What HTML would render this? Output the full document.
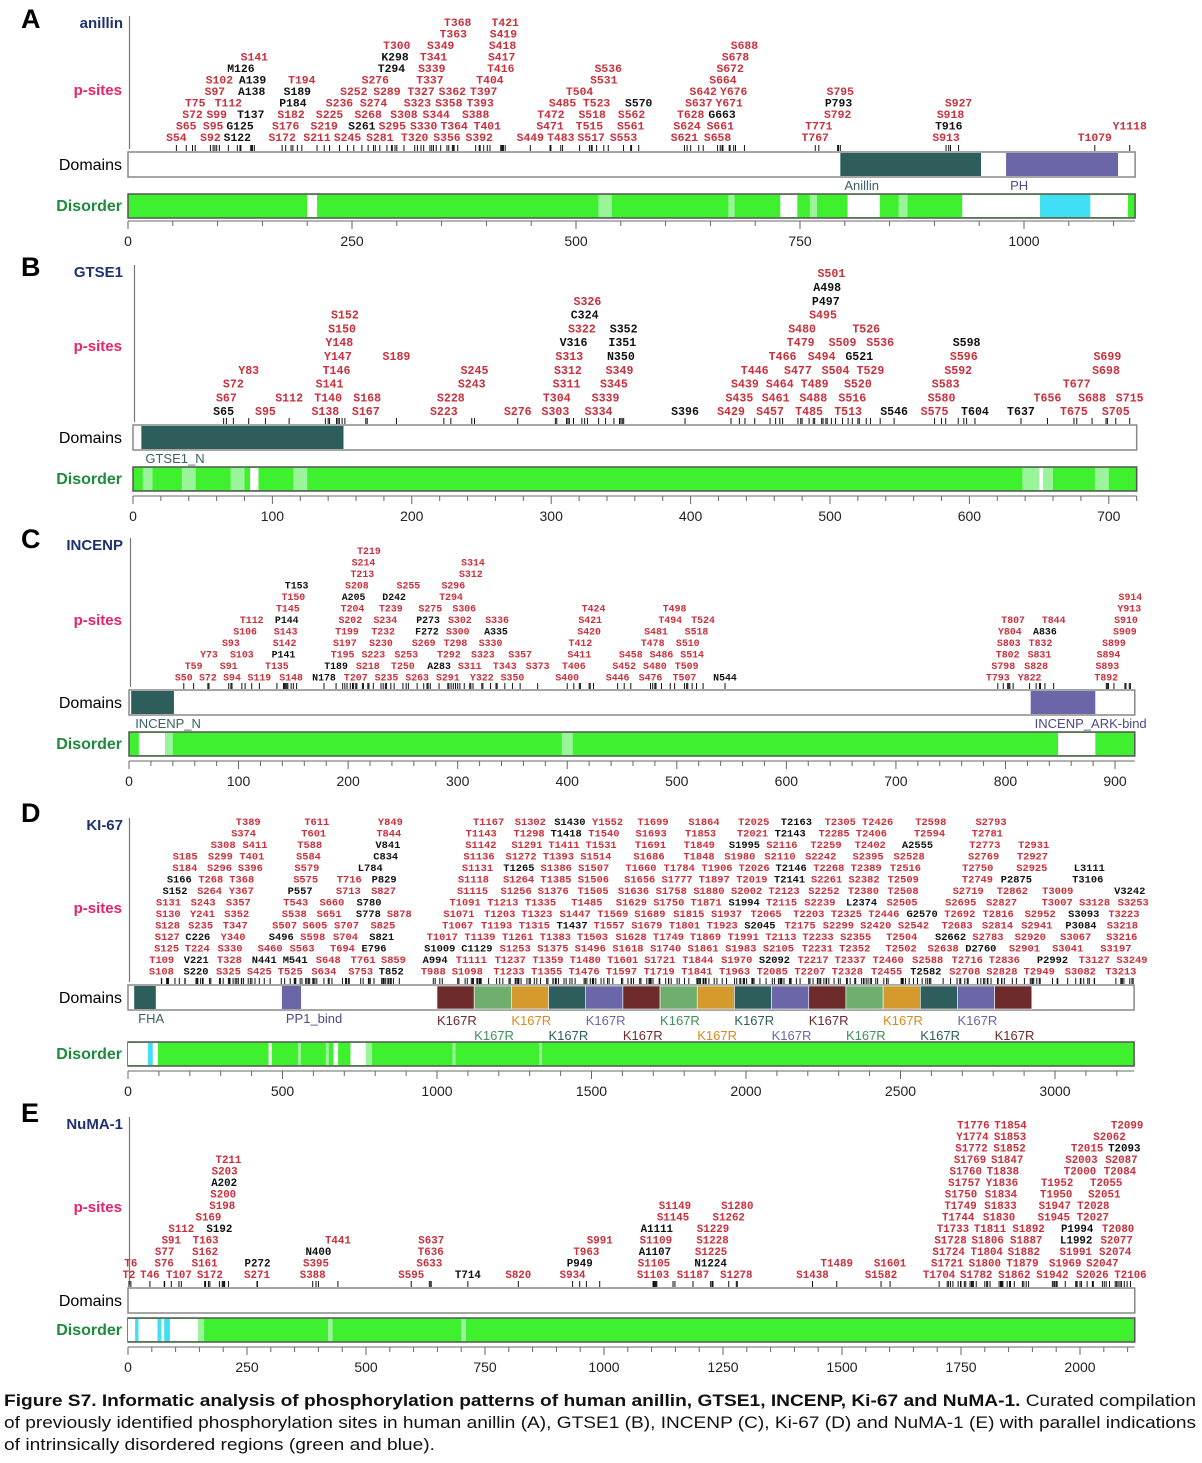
<!DOCTYPE html>
<html><head><meta charset="utf-8">
<style>
html,body{margin:0;padding:0;background:#fff;}
svg{display:block;}
.site{font-family:"Liberation Mono",monospace;font-weight:bold;}
.lab{font-family:"Liberation Sans",sans-serif;}
</style></head>
<body>
<svg id="fig" width="1202" height="1463" viewBox="0 0 1202 1463" xmlns="http://www.w3.org/2000/svg">
<g id="caption" class="lab" font-size="17" fill="#111">
<text x="4" y="1406" textLength="1192" lengthAdjust="spacingAndGlyphs"><tspan font-weight="bold">Figure S7. Informatic analysis  of phosphorylation patterns of human anillin, GTSE1,  INCENP, Ki-67 and NuMA-1.</tspan> Curated compilation</text>
<text x="4" y="1428" textLength="1192" lengthAdjust="spacingAndGlyphs">of previously identified phosphorylation  sites in human anillin (A), GTSE1  (B), INCENP (C), Ki-67 (D) and NuMA-1 (E) with parallel indications</text>
<text x="4" y="1450" textLength="431" lengthAdjust="spacingAndGlyphs">of intrinsically disordered  regions  (green and  blue).</text>
</g>
</svg>
<script>
// ---------- DATA ----------
const rowsA = [
"S54 S92 S122 S172 S211 S245 S281 T320 S356 S392 S449 T483 S517 S553 S621 S658 T767 S913 T1079",
"S65 S95 G125 S176 S219 S261 S295 S330 T364 T401 S471 T515 S561 S624 S661 T771 T916 Y1118",
"S72 S99 T137 S182 S225 S268 S308 S344 S388 T472 S518 S562 T628 G663 S792 S918",
"T75 T112 P184 S236 S274 S323 S358 T393 S485 T523 S570 S637 Y671 P793 S927",
"S97 A138 S189 S252 S289 T327 S362 T397 T504 S642 Y676 S795",
"S102 A139 T194 S276 T337 T404 S531 S664",
"M126 T294 S339 T416 S536 S672",
"S141 K298 T341 S417 S678",
"T300 S349 S418 S688",
"T363 S419",
"T368 T421"];
const blackA = "S122 G125 T137 A138 A139 M126 P184 S189 S261 T294 K298 S570 G663 P793 T916";
const domainsA = [["Anillin",795,952,"teal"],["PH",980,1105,"purple"]];
const disorderA = [["w",200,211],["l",525,540],["l",670,677],["w",728,747],["l",761,769],["w",803,839],["l",860,870],["w",931,1018],["c",1018,1074],["w",1074,1116]];

const rowsB = [
"S65 S95 S138 S167 S223 S276 S303 S334 S396 S429 S457 T485 T513 S546 S575 T604 T637 T675 S705",
"S67 S112 T140 S168 S228 T304 S339 S435 S461 S488 S516 S580 T656 S688 S715",
"S72 S141 S243 S311 S345 S439 S464 T489 S520 S583 T677",
"Y83 T146 S245 S312 S349 T446 S477 S504 T529 S592 S698",
"Y147 S189 S313 N350 T466 S494 G521 S596 S699",
"Y148 V316 I351 T479 S509 S536 S598",
"S150 S322 S352 S480 T526",
"S152 C324 S495",
"S326 P497",
"A498",
"S501"];
const blackB = "S65 S396 S546 T604 T637 V316 C324 I351 N350 S352 P497 A498 G521 S598";
const domainsB = [["GTSE1_N",6,151,"teal"]];
const disorderB = [["l",7,14],["l",35,45],["l",70,80],["w",84,90],["l",115,125],["l",638,645],["l",645,650],["w",650,653],["l",653,660],["l",690,700]];

const rowsC = [
"S50 S72 S94 S119 S148 N178 T207 S235 S263 S291 Y322 S350 S400 S446 S476 T507 N544 T793 Y822 T892",
"T59 S91 T135 T189 S218 T250 A283 S311 T343 S373 T406 S452 S480 T509 S798 S828 S893",
"Y73 S103 P141 T195 S223 S253 T292 S323 S357 S411 S458 S486 S514 T802 S831 S894",
"S93 S142 S197 S230 S269 T298 S330 T412 T478 S510 S803 T832 S899",
"S106 S143 T199 T232 F272 S300 A335 S420 S481 S518 Y804 A836 S909",
"T112 P144 S202 S234 P273 S302 S336 S421 T494 T524 T807 T844 S910",
"T145 T204 T239 S275 S306 T424 T498 Y913",
"T150 A205 D242 T294 S914",
"T153 S208 S255 S296",
"T213 S312",
"S214 S314",
"T219"];
const blackC = "N178 T189 A283 P141 P144 T153 A205 D242 P273 F272 A335 N544 A836";
const domainsC = [["INCENP_N",2,41,"teal"],["INCENP_ARK-bind",823,882,"purple"]];
const disorderC = [["w",9,33],["l",33,40],["l",395,405],["w",848,882]];

const rowsD = [
"S108 S220 S325 S425 T525 S634 S753 T852 T988 S1098 T1233 T1355 T1476 T1597 T1719 T1841 T1963 T2085 T2207 T2328 T2455 T2582 S2708 S2828 T2949 S3082 T3213",
"T109 V221 T328 N441 M541 S648 T761 S859 A994 T1111 T1237 T1359 T1480 T1601 S1721 T1844 S1970 S2092 T2217 T2337 T2460 S2588 T2716 T2836 P2992 T3127 S3249",
"S125 T224 S330 S460 S563 T694 E796 S1009 C1129 S1253 S1375 S1496 S1618 S1740 S1861 S1983 S2105 T2231 T2352 T2502 S2638 D2760 S2901 S3041 S3197",
"S127 C226 Y340 S496 S598 S704 S821 T1017 T1139 T1261 T1383 T1503 S1628 T1749 T1869 T1991 T2113 T2233 S2355 T2504 S2662 S2783 S2920 S3067 S3216",
"S128 S235 T347 S507 S605 S707 S825 T1067 T1193 T1315 T1437 T1557 S1679 T1801 T1923 S2045 T2175 S2299 S2420 S2542 T2683 S2814 S2941 P3084 S3218",
"S130 Y241 S352 S538 S651 S778 S878 S1071 T1203 T1323 S1447 T1569 S1689 S1815 S1937 T2065 T2203 T2325 T2446 G2570 T2692 T2816 S2952 S3093 T3223",
"S131 S243 S357 T543 S660 S780 T1091 T1213 T1335 T1485 S1629 S1750 T1871 S1994 T2115 S2239 L2374 S2505 S2695 S2827 T3007 S3128 S3253",
"S152 S264 Y367 P557 S713 S827 S1115 S1256 S1376 T1505 S1636 S1758 S1880 S2002 T2123 S2252 T2380 T2508 S2719 T2862 T3009 V3242",
"S166 T268 T368 S575 T716 P829 S1118 S1264 T1385 S1506 S1656 S1777 T1897 T2019 T2141 S2261 S2382 T2509 T2749 P2875 T3106",
"S184 S296 S396 S579 L784 S1131 T1265 S1386 S1507 T1660 T1784 T1906 T2026 T2146 T2268 T2389 T2516 T2750 S2925 L3111",
"S185 S299 T401 S584 C834 S1136 S1272 T1393 S1514 S1686 T1848 S1980 S2110 S2242 S2395 S2528 S2769 T2927",
"S308 S411 T588 V841 S1142 S1291 T1411 T1531 T1691 T1849 S1995 S2116 T2259 T2402 A2555 T2773 T2931",
"S374 T601 T844 T1143 T1298 T1418 T1540 S1693 T1853 T2021 T2143 T2285 T2406 T2594 T2781",
"T389 T611 Y849 T1167 S1302 S1430 Y1552 T1699 S1864 T2025 T2163 T2305 T2426 T2598 S2793"];
const blackD = "S220 V221 C226 N441 M541 E796 S496 S780 S778 S821 P557 S166 S152 L784 P829 C834 V841 T852 A994 S1009 C1129 T1437 T1265 S1994 S1995 T1418 S1430 S2045 S2092 T2141 T2146 T2143 T2163 L2374 G2570 A2555 T2582 S2662 D2760 P2875 P2992 S3093 P3084 T3106 L3111 V3242";
const domainsD = [["FHA",20,90,"teal"],["PP1_bind",498,560,"purple"]];
const repeatStartD = 1000, repeatEndD = 2925, repeatCountD = 16;
const repeatColors = ["darkred","green","gold","teal","purple"];
const disorderD = [["w",0,65],["c",65,80],["w",80,97],["l",550,560],["l",640,650],["w",455,465],["w",665,680],["w",720,770],["l",770,790],["l",1050,1060],["l",1330,1340]];

const rowsE = [
"T2 T46 T107 S172 S271 S388 S595 T714 S820 S934 S1103 S1187 S1278 S1438 S1582 T1704 S1782 S1862 S1942 S2026 T2106",
"T6 S76 S161 P272 S395 S633 P949 S1105 N1224 T1489 S1601 S1721 S1800 T1879 S1969 S2047",
"S77 S162 N400 T636 T963 A1107 S1225 S1724 T1804 S1882 S1991 S2074",
"S91 T163 T441 S637 S991 S1109 S1228 S1728 S1806 S1887 L1992 S2077",
"S112 S192 A1111 S1229 T1733 T1811 S1892 P1994 T2080",
"S169 S1145 S1262 T1744 S1830 S1945 T2027",
"S198 S1149 S1280 T1749 S1833 S1947 T2028",
"S200 S1750 S1834 T1950 S2051",
"A202 S1757 Y1836 T1952 T2055",
"S203 S1760 T1838 T2000 T2084",
"T211 S1769 S1847 S2003 S2087",
"S1772 S1852 T2015 T2093",
"Y1774 S1853 S2062",
"T1776 T1854 T2099"];
const blackE = "P272 N400 T714 P949 A1111 A1107 N1224 L1992 P1994 T2093 S192 A202";
const domainsE = [];
const disorderE = [["w",0,147],["c",15,22],["c",62,70],["c",76,88],["l",147,160],["l",420,430],["l",700,710]];

const tickLabelsA = [0,250,500,750,1000];
const tickLabelsB = [0,100,200,300,400,500,600,700];
const tickLabelsC = [0,100,200,300,400,500,600,700,800,900];
const tickLabelsD = [0,500,1000,1500,2000,2500,3000];
const tickLabelsE = [0,250,500,750,1000,1250,1500,1750,2000];

// ---------- LAYOUT ----------
const COLORS = {teal:"#2d5e5b",purple:"#6b66a8",darkred:"#6e2b2b",green:"#6fae6f",gold:"#d49a2e"};
const DIS = {w:"#ffffff",l:"#9af59a",c:"#3fe0f5"};
const panels = [
 {L:"A",name:"anillin",rows:rowsA,black:blackA,doms:domainsA,dis:disorderA,ticks:tickLabelsA,minor:50,len:1124,x0:128,u:0.896,letterY:28,nameY:28,psY:95,row0:137,step:11.5,fs:11.4,domY:152,disY:194,axY:221},
 {L:"B",name:"GTSE1",rows:rowsB,black:blackB,doms:domainsB,dis:disorderB,ticks:tickLabelsB,minor:20,len:720,x0:133,u:1.394,letterY:276,nameY:277,psY:351,row0:411,step:13.8,fs:11.6,domY:425,disY:467,axY:496},
 {L:"C",name:"INCENP",rows:rowsC,black:blackC,doms:domainsC,dis:disorderC,ticks:tickLabelsC,minor:20,len:918,x0:129,u:1.0956,letterY:548,nameY:550,psY:625,row0:677,step:11.5,fs:9.9,domY:690,disY:732,axY:761},
 {L:"D",name:"KI-67",rows:rowsD,black:blackD,doms:domainsD,dis:disorderD,ticks:tickLabelsD,minor:100,len:3256,x0:128,u:0.309,letterY:822,nameY:830,psY:913,row0:971,step:11.5,fs:10.4,domY:985,disY:1042,axY:1071},
 {L:"E",name:"NuMA-1",rows:rowsE,black:blackE,doms:domainsE,dis:disorderE,ticks:tickLabelsE,minor:50,len:2115,x0:128,u:0.476,letterY:1122,nameY:1129,psY:1212,row0:1274,step:11.5,fs:10.8,domY:1288,disY:1318,axY:1347}
];
const NS="http://www.w3.org/2000/svg";
const svg=document.getElementById('fig');
function mk(tag,attrs,parent,txt){const e=document.createElementNS(NS,tag);for(const k in attrs)e.setAttribute(k,attrs[k]);if(txt!==undefined)e.textContent=txt;parent.appendChild(e);return e;}

panels.forEach(p=>{
  const X=r=>p.x0+r*p.u;
  const xEnd=X(p.len);
  const g=mk('g',{},svg);
  
  
  let t=mk('text',{x:21,y:p.letterY,'font-size':27,'font-weight':'bold',class:'lab',fill:'#000'},g,p.L);
  
  
  t=mk('text',{x:123,y:p.nameY,'font-size':15,'font-weight':'bold',class:'lab',fill:'#1d3270','text-anchor':'end'},g,p.name);
  
  
  t=mk('text',{x:122,y:p.psY,'font-size':15,'font-weight':'bold',class:'lab',fill:'#e5226b','text-anchor':'end'},g,'p-sites');
  
  
  t=mk('text',{x:122,y:p.domY+18,'font-size':16,class:'lab',fill:'#000','text-anchor':'end'},g,'Domains');
  
  
  t=mk('text',{x:122,y:p.disY+17,'font-size':16,'font-weight':'bold',class:'lab',fill:'#1e8a3c','text-anchor':'end'},g,'Disorder');
  
  
  let ln=mk('line',{x1:p.x0+1.5,x2:p.x0+1.5,y1:p.nameY-12,y2:p.domY-3,stroke:'#777','stroke-width':1.2},g);
  
  
  const blk=new Set(p.black.split(' '));
  p.rows.forEach((row,ri)=>{
    row.split(' ').forEach(lbl=>{
      const res=parseInt(lbl.slice(1),10);
      const x=X(res);
      const s=mk('text',{x:x,y:p.row0-ri*p.step+p.fs*0.36,'font-size':p.fs,class:'site','text-anchor':'middle',fill:blk.has(lbl)?'#111':'#c9303c'},g,lbl);
      
      
      const tk=mk('line',{x1:x,x2:x,y1:p.domY-7,y2:p.domY-1,stroke:'#111','stroke-width':1},g);
      
      
    });
  });
  let r=mk('rect',{x:p.x0,y:p.domY,width:xEnd-p.x0,height:25,fill:'#fff',stroke:'#888','stroke-width':1.5},g);
  
  
  p.doms.forEach(d=>{
    const dr=mk('rect',{x:X(d[1]),y:p.domY+1,width:X(d[2])-X(d[1]),height:23,fill:COLORS[d[3]]},g);
    
    
    const dl=mk('text',{x:X(d[1])+4,y:p.domY+38,'font-size':13,class:'lab',fill:d[3]==='teal'?'#3a6266':'#4c4a8a'},g,d[0]);
    
    
  });
  if(p.L==='D'){
    const w=(repeatEndD-repeatStartD)/repeatCountD;
    for(let i=0;i<repeatCountD;i++){
      const s=repeatStartD+i*w, c=COLORS[repeatColors[i%5]];
      const rr=mk('rect',{x:X(s),y:p.domY+1,width:X(s+w)-X(s),height:23,fill:c,stroke:'#fff','stroke-width':0.6},g);
      
      
      const lc=repeatColors[i%5]==='gold'?'#d88a1a':(repeatColors[i%5]==='green'?'#3f8f5a':c);
      const rl=mk('text',{x:X(s),y:p.domY+(i%2===0?40:55),'font-size':13,class:'lab',fill:lc},g,'K167R');
      
      
    }
  }
  r=mk('rect',{x:p.x0,y:p.disY,width:xEnd-p.x0,height:24,fill:'#3ff02e',stroke:'#555','stroke-width':1.5},g);
  
  
  p.dis.forEach(d=>{
    const dr=mk('rect',{x:X(d[1]),y:p.disY+1,width:Math.max(1,X(d[2])-X(d[1])),height:22,fill:DIS[d[0]]},g);
    
    
  });
  ln=mk('line',{x1:p.x0,x2:xEnd,y1:p.axY,y2:p.axY,stroke:'#888','stroke-width':1.2},g);
  
  
  for(let v=0;v<=p.len;v+=p.minor){
    const major=p.ticks.includes(v);
    const tk=mk('line',{x1:X(v),x2:X(v),y1:p.axY,y2:p.axY+(major?8:5),stroke:'#666','stroke-width':1},g);
    
    
  }
  p.ticks.forEach(v=>{
    const tl=mk('text',{x:X(v),y:p.axY+25,'font-size':14,class:'lab',fill:'#222','text-anchor':'middle'},g,String(v));
    
    
  });
});
</script>
</body></html>
